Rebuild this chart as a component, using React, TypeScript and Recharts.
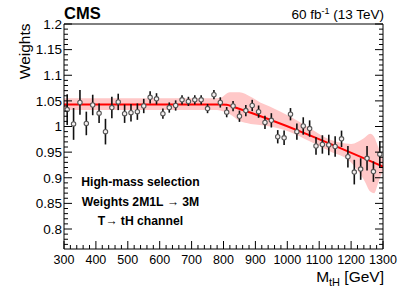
import React from 'react';
import { ComposedChart, Area, Line, Scatter, ErrorBar, XAxis, YAxis } from 'recharts';

// bin centres (GeV) and measured weights with their uncertainties
const massBins = [
  310, 330, 350, 370, 390, 410, 430, 450, 470, 490,
  510, 530, 550, 570, 590, 610, 630, 650, 670, 690,
  710, 730, 750, 770, 790, 810, 830, 850, 870, 890,
  910, 930, 950, 970, 990, 1010, 1030, 1050, 1070, 1090,
  1110, 1130, 1150, 1170, 1190, 1210, 1230, 1250, 1270, 1290,
];
const weights = [
  1.033, 1.005, 1.047, 1.006, 1.042, 1.026, 0.990, 1.037, 1.048, 1.025,
  1.027, 1.029, 1.040, 1.057, 1.054, 1.025, 1.037, 1.041, 1.052, 1.049,
  1.052, 1.052, 1.035, 1.062, 1.047, 1.028, 1.040, 1.020, 1.031, 1.041,
  1.029, 1.008, 1.012, 0.980, 0.978, 1.024, 0.990, 1.001, 0.996, 0.962,
  0.965, 0.964, 0.961, 0.976, 0.941, 0.911, 0.917, 0.938, 0.912, 0.946,
];
const weightErr = [
  0.030, 0.031, 0.024, 0.023, 0.020, 0.019, 0.025, 0.021, 0.016, 0.018,
  0.017, 0.016, 0.014, 0.012, 0.011, 0.010, 0.010, 0.010, 0.009, 0.009,
  0.009, 0.009, 0.009, 0.009, 0.010, 0.010, 0.010, 0.011, 0.011, 0.011,
  0.012, 0.013, 0.014, 0.013, 0.014, 0.012, 0.016, 0.017, 0.016, 0.017,
  0.018, 0.020, 0.020, 0.016, 0.021, 0.024, 0.021, 0.024, 0.020, 0.025,
];

// fitted function
const fitMass = [300, 790, 810, 830, 1300];
const fitValue = [1.043, 1.043, 1.0425, 1.0385, 0.922];

// fit uncertainty band
const bandMass = [300, 780, 790, 820, 850, 885, 915, 945, 1010, 1070, 1135, 1200, 1240, 1260, 1272, 1285, 1300];
const bandLow = [1.032, 1.032, 1.031, 1.024, 1.011, 1.005, 1.003, 1.0, 0.989, 0.971, 0.951, 0.93, 0.896, 0.873, 0.87, 0.89, 0.915];
const bandHigh = [1.055, 1.055, 1.056, 1.067, 1.067, 1.058, 1.047, 1.039, 1.019, 0.997, 0.974, 0.966, 0.977, 0.986, 0.98, 0.96, 0.935];

const xMajor = [300, 400, 500, 600, 700, 800, 900, 1000, 1100, 1200, 1300];
const xMinor = [
  320, 340, 360, 380, 420, 440, 460, 480, 520, 540, 560, 580, 620, 640, 660, 680,
  720, 740, 760, 780, 820, 840, 860, 880, 920, 940, 960, 980, 1020, 1040, 1060, 1080,
  1120, 1140, 1160, 1180, 1220, 1240, 1260, 1280,
];
const yMajor = [0.8, 0.85, 0.9, 0.95, 1, 1.05, 1.1, 1.15, 1.2];
const yMinor = [
  0.77, 0.78, 0.79, 0.81, 0.82, 0.83, 0.84, 0.86, 0.87, 0.88, 0.89,
  0.91, 0.92, 0.93, 0.94, 0.96, 0.97, 0.98, 0.99, 1.01, 1.02, 1.03, 1.04,
  1.06, 1.07, 1.08, 1.09, 1.11, 1.12, 1.13, 1.14, 1.16, 1.17, 1.18, 1.19,
];

const textLines = ['High-mass selection', 'Weights 2M1L \u2192 3M', 'T\u2192 tH channel'];

const FONT = '"Liberation Sans", Arial, Helvetica, sans-serif';
const X_DOMAIN = [300, 1300];
const Y_DOMAIN = [0.761, 1.2];
const MAJOR_LEN = 8;
const MINOR_LEN = 4;

const points = massBins.map((m, i) => ({ x: m, y: weights[i], err: weightErr[i] }));
const fit = fitMass.map((m, i) => ({ x: m, fit: fitValue[i] }));
const band = bandMass.map((m, i) => ({ x: m, band: [bandLow[i], bandHigh[i]] }));
const xTicks = [...xMajor, ...xMinor].sort((a, b) => a - b);
const yTicks = [...yMajor, ...yMinor].sort((a, b) => a - b);

const Marker = (props: any) => (
  <circle cx={props.cx} cy={props.cy} r={2.2} fill="#f4f0f0" stroke="#555" strokeWidth={1.1} />
);

// ROOT style: ticks point into the frame, labels only on bottom/left
const makeTick = (side: 'bottom' | 'top' | 'left' | 'right') => (props: any) => {
  const { x, y, payload } = props;
  const v = payload.value;
  const major = side === 'bottom' || side === 'top' ? xMajor.includes(v) : yMajor.includes(v);
  const len = major ? MAJOR_LEN : MINOR_LEN;
  if (side === 'bottom') {
    return (
      <g>
        <line x1={x} x2={x} y1={y} y2={y - len} stroke="#000" />
        {major && <text x={x} y={y + 15} textAnchor="middle" fontSize={12.5} fontFamily={FONT} fill="#000">{v}</text>}
      </g>
    );
  }
  if (side === 'top') return <line x1={x} x2={x} y1={y} y2={y + len} stroke="#000" />;
  if (side === 'left') {
    return (
      <g>
        <line x1={x} x2={x + len} y1={y} y2={y} stroke="#000" />
        {major && <text x={x - 2} y={y + 4.8} textAnchor="end" fontSize={13.5} fontFamily={FONT} fill="#000">{String(v)}</text>}
      </g>
    );
  }
  return <line x1={x} x2={x - len} y1={y} y2={y} stroke="#000" />;
};

export default function App() {
  const axisCommon = {
    type: 'number' as const, allowDataOverflow: true, interval: 0 as const,
    tickLine: false, tickSize: 0, tickMargin: 0, stroke: '#000',
  };
  return (
    <div style={{ position: 'absolute', left: 0, top: 0, width: 399, height: 288, background: '#fff' }}>
      <ComposedChart width={399} height={288} margin={{ top: 23, right: 15, bottom: 0, left: 0 }}>
        <XAxis xAxisId="x" {...axisCommon} dataKey="x" domain={X_DOMAIN} ticks={xTicks} height={39} tick={makeTick('bottom')} />
        <XAxis xAxisId="xt" {...axisCommon} orientation="top" domain={X_DOMAIN} ticks={xTicks} height={1} tick={makeTick('top')} />
        <YAxis yAxisId="y" {...axisCommon} domain={Y_DOMAIN} ticks={yTicks} width={64} tick={makeTick('left')} />
        <YAxis yAxisId="yr" {...axisCommon} orientation="right" domain={Y_DOMAIN} ticks={yTicks} width={1} tick={makeTick('right')} />

        <Area xAxisId="x" yAxisId="y" data={band} dataKey="band" type="monotone"
          stroke="none" fill="#ffc8c8" fillOpacity={1} isAnimationActive={false} />
        <Line xAxisId="x" yAxisId="y" data={fit} dataKey="fit" type="monotone"
          stroke="#ff0000" strokeWidth={2} dot={false} isAnimationActive={false} />
        <Scatter xAxisId="x" yAxisId="y" data={points} dataKey="y" shape={Marker} isAnimationActive={false}>
          <ErrorBar dataKey="err" direction="y" width={0} stroke="#111" strokeWidth={1.6} />
        </Scatter>
      </ComposedChart>

      <svg width={399} height={288} style={{ position: 'absolute', left: 0, top: 0, pointerEvents: 'none' }}
        fontFamily={FONT}>
        <text x={64} y={18.5} fontSize={16.5} fontWeight="bold" fill="#000">CMS</text>
        <text x={384} y={18.5} fontSize={13.5} textAnchor="end" fill="#000">
          60 fb<tspan dy={-5} fontSize={9}>-1</tspan><tspan dy={5}> (13 TeV)</tspan>
        </text>
        <text transform="translate(29.5,23.5) rotate(-90)" fontSize={15.5} textAnchor="end" fill="#000">Weights</text>
        <text x={384} y={281.5} fontSize={15.5} textAnchor="end" fill="#000">
          M<tspan dy={4} fontSize={11}>tH</tspan><tspan dy={-4}> [GeV]</tspan>
        </text>
        {textLines.map((t, i) => (
          <text key={t} x={140.5} y={186 + i * 19.5} fontSize={12.2} fontWeight="bold" textAnchor="middle" fill="#000">
            {t}
          </text>
        ))}
      </svg>
    </div>
  );
}
